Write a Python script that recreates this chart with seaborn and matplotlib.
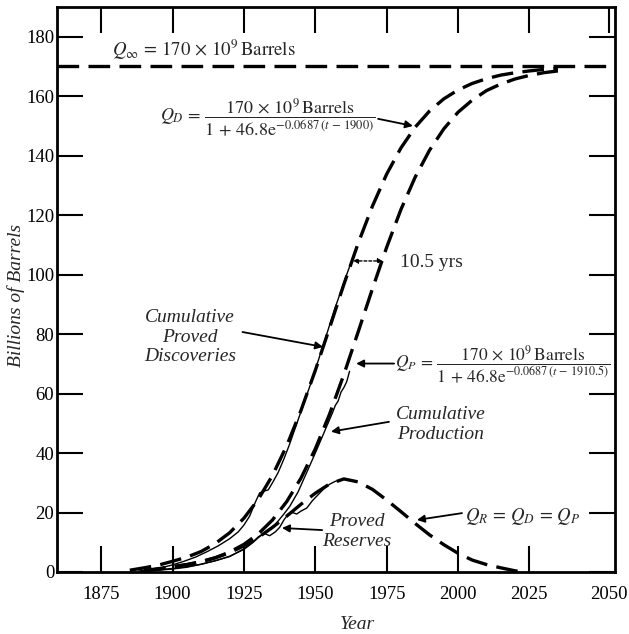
import matplotlib
matplotlib.use("Agg")
import matplotlib.pyplot as plt
import seaborn as sns

# ---------------- data ----------------
q_inf = 170

qd_years = [1885, 1890, 1895, 1900, 1905, 1910, 1915, 1920, 1925, 1930, 1935, 1940,
            1945, 1950, 1955, 1960, 1965, 1970, 1975, 1980, 1985, 1990, 1995, 2000,
            2005, 2010, 2015, 2020, 2025, 2030, 2035]
qd_vals = [0.6, 1.4, 2.3, 3.6, 5.0, 6.9, 9.6, 13.2, 18.1, 24.4, 32.5, 42.5,
           54.4, 67.8, 82.1, 96.7, 110.5, 123.0, 133.8, 142.6, 149.6, 155.0, 159.1, 162.1,
           164.3, 165.9, 167.1, 167.9, 168.5, 169.0, 169.3]

qp_years = [1890, 1895, 1900, 1905, 1910, 1915, 1920, 1925, 1930, 1935, 1940, 1945, 1950,
            1955, 1960, 1965, 1970, 1975, 1980, 1985, 1990, 1995, 2000, 2005, 2010,
            2015, 2020, 2025, 2030, 2035]
qp_vals = [0.4, 1.0, 1.7, 2.5, 3.4, 4.8, 6.7, 9.3, 12.8, 17.5, 23.7, 31.6, 41.4,
           53.1, 66.4, 80.7, 95.2, 109.2, 121.9, 132.8, 141.8, 149.0, 154.6, 158.7, 161.9,
           164.1, 165.8, 167.0, 167.9, 168.5]

qr_years = [1890, 1895, 1900, 1905, 1910, 1915, 1920, 1925, 1930, 1935, 1940, 1945,
            1950, 1955, 1960, 1965, 1970, 1975, 1980, 1985, 1990, 1995, 2000, 2005,
            2010, 2015, 2020, 2023]
qr_vals = [0.5, 1.1, 1.8, 2.5, 3.5, 4.8, 6.5, 8.8, 11.6, 15.0, 18.8, 22.8,
           26.5, 29.6, 31.3, 30.3, 27.8, 24.2, 20.3, 16.3, 12.5, 9.2, 6.3, 4.0,
           2.5, 1.4, 0.4, 0.0]

disc_years = [1888, 1892, 1896, 1900, 1904, 1908, 1912, 1916, 1920, 1923, 1925, 1927,
              1929, 1930.5, 1932, 1933.5, 1935, 1937, 1939, 1941, 1943, 1945, 1947,
              1949, 1951, 1953, 1955, 1957, 1959, 1961, 1962.5]
disc_vals = [0.3, 0.8, 1.4, 2.4, 3.6, 5.0, 6.8, 8.8, 11.2, 13.5, 15.8, 18.8,
             23.5, 26.6, 27.2, 27.6, 30.0, 33.5, 38.0, 43.0, 48.5, 54.0, 59.5,
             65.0, 71.0, 77.0, 83.0, 89.0, 94.5, 100.0, 104.0]

prod_years = [1889, 1895, 1900, 1905, 1910, 1915, 1920, 1925, 1928, 1930, 1933, 1936,
              1939, 1941, 1944, 1947, 1950, 1952, 1954, 1956, 1957, 1958, 1959, 1960,
              1961, 1962]
prod_vals = [0.3, 0.6, 1.0, 1.6, 2.6, 3.8, 5.3, 7.6, 9.8, 11.5, 13.8, 16.0,
             19.5, 22.0, 27.0, 33.5, 40.0, 44.5, 49.0, 53.5, 56.0, 57.5, 60.5, 62.0,
             64.0, 67.5]

res_years = [1890, 1895, 1900, 1905, 1910, 1915, 1920, 1925, 1928, 1930, 1932, 1934,
             1936, 1937.5, 1939, 1940.5, 1942, 1943.5, 1945, 1947, 1949, 1951, 1953,
             1955, 1957, 1959, 1961]
res_vals = [0.3, 0.7, 1.2, 1.8, 2.6, 3.8, 5.2, 7.8, 10.0, 11.8, 13.0, 12.2,
            13.5, 15.0, 17.5, 19.5, 20.0, 19.5, 20.5, 21.5, 24.0, 26.0, 28.0,
            29.5, 30.5, 31.0, 31.3]

x_ticks = [1875, 1900, 1925, 1950, 1975, 2000, 2025]
y_ticks = [0, 20, 40, 60, 80, 100, 120, 140, 160, 180]

# ---------------- style ----------------
sns.set_style("ticks")
plt.rcParams["font.family"] = ["Liberation Serif", "DejaVu Serif"]
plt.rcParams["mathtext.fontset"] = "stix"

fig = plt.figure(figsize=(6.29, 6.34), dpi=100)
ax = fig.add_axes([57 / 629, 1 - 572 / 634, 558 / 629, 565 / 634])

dash = (0, (6.5, 2.8))
DLW = 2.4
SLW = 1.0

ax.axhline(q_inf, color="black", lw=DLW, linestyle=dash)
sns.lineplot(x=qd_years, y=qd_vals, ax=ax, color="black", linewidth=DLW, linestyle=dash)
sns.lineplot(x=qp_years, y=qp_vals, ax=ax, color="black", linewidth=DLW, linestyle=dash)
sns.lineplot(x=qr_years, y=qr_vals, ax=ax, color="black", linewidth=DLW, linestyle=dash)
sns.lineplot(x=disc_years, y=disc_vals, ax=ax, color="black", linewidth=SLW)
sns.lineplot(x=prod_years, y=prod_vals, ax=ax, color="black", linewidth=SLW)
sns.lineplot(x=res_years, y=res_vals, ax=ax, color="black", linewidth=SLW)

ax.set_xlim(1859.5, 2055)
ax.set_ylim(0, 190)

ax.set_xticks(x_ticks + [2053])
ax.set_xticklabels([str(v) for v in x_ticks] + ["2050"])
last = ax.xaxis.get_major_ticks()[-1]
last.tick1line.set_visible(False)
last.tick2line.set_visible(False)
ax.set_yticks(y_ticks)
ax.set_yticklabels([str(v) for v in y_ticks])

ax.tick_params(axis="both", direction="in", length=19, width=1.5, top=True, right=True,
               labelsize=13.5, colors="black")
ax.tick_params(axis="x", pad=10)
ax.tick_params(axis="y", pad=2)
for s in ax.spines.values():
    s.set_linewidth(2)
    s.set_color("black")

ax.set_xlabel("Year", fontsize=14, style="italic")
ax.set_ylabel("Billions of Barrels", fontsize=14, style="italic")
ax.xaxis.set_label_coords(0.538, -0.078)
ax.yaxis.set_label_coords(-0.058, 0.49)

# ---------------- annotations ----------------
arr = dict(arrowstyle="-|>", color="black", lw=1.3, mutation_scale=11,
           shrinkA=0, shrinkB=0)

ax.text(1878.8, 175.5, r"$Q_\infty\,=\,170\,\times\,10^9\,\mathrm{Barrels}$",
        fontsize=13.5, ha="left", va="center")

ax.text(1895.6, 152.6,
        r"$Q_D\,=\,\dfrac{170\,\times\,10^9\,\mathrm{Barrels}}{1\,+\,46.8\mathrm{e}^{-0.0687\,(t\,-\,1900)}}$",
        fontsize=13, ha="left", va="center")
ax.annotate("", xy=(1984.2, 150.0), xytext=(1972.0, 152.4), arrowprops=arr)

ax.annotate("", xy=(1963.2, 104.6), xytext=(1973.7, 104.6),
            arrowprops=dict(arrowstyle="<|-|>", color="black", lw=1.0, linestyle=(0, (2, 1.5)),
                            mutation_scale=7, shrinkA=0, shrinkB=0))
ax.text(1979.7, 104.2, "10.5 yrs", fontsize=14, ha="left", va="center")

ax.text(1906.1, 79.0, "Cumulative\nProved\nDiscoveries", fontsize=14, style="italic",
        ha="center", va="center", linespacing=1.2)
ax.annotate("", xy=(1952.7, 75.7), xytext=(1924.5, 80.7), arrowprops=arr)

ax.text(1977.9, 69.8,
        r"$Q_P\,=\,\dfrac{170\,\times\,10^9\,\mathrm{Barrels}}{1\,+\,46.8\mathrm{e}^{-0.0687\,(t\,-\,1910.5)}}$",
        fontsize=12.5, ha="left", va="center")
ax.annotate("", xy=(1964.3, 70.1), xytext=(1977.6, 70.1), arrowprops=arr)

ax.text(1994.0, 49.6, "Cumulative\nProduction", fontsize=14, style="italic",
        ha="center", va="center", linespacing=1.2)
ax.annotate("", xy=(1955.5, 47.2), xytext=(1975.8, 50.5), arrowprops=arr)

ax.text(1964.6, 13.6, "Proved\nReserves", fontsize=14, style="italic",
        ha="center", va="center", linespacing=1.2)
ax.annotate("", xy=(1938.3, 14.8), xytext=(1952.4, 14.1), arrowprops=arr)

ax.text(2002.5, 18.8, r"$Q_R\,=\,Q_D\,=\,Q_P$", fontsize=13.5, ha="left", va="center")
ax.annotate("", xy=(1985.6, 17.5), xytext=(2001.4, 19.8), arrowprops=arr)

fig.savefig("out.png", dpi=100)
